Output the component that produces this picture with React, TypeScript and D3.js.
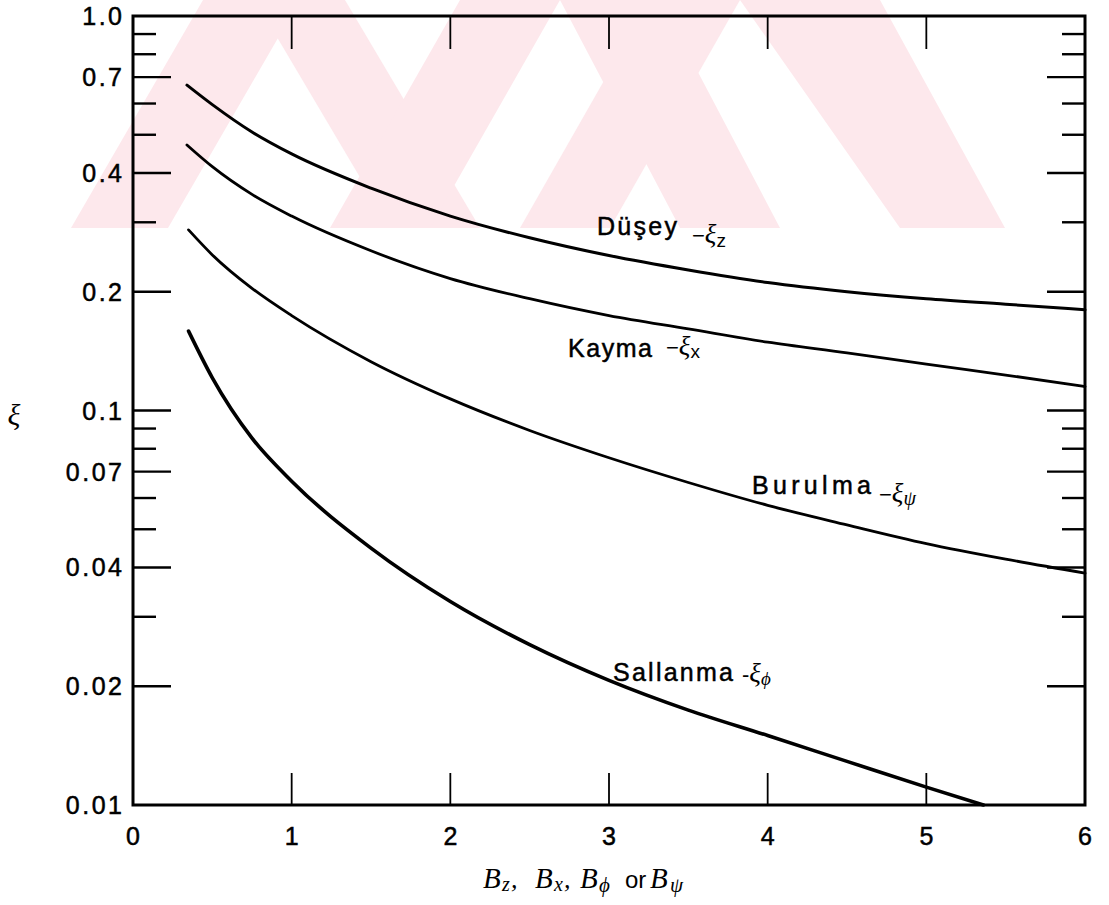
import React from "react";
import * as d3 from "d3";

// ---- data ----
const xTickValues = [0, 1, 2, 3, 4, 5, 6];
const innerXTicks = [1, 2, 3, 4, 5];
const yLabelValues = [1.0, 0.7, 0.4, 0.2, 0.1, 0.07, 0.04, 0.02, 0.01];
const yLabelText = ["1.0", "0.7", "0.4", "0.2", "0.1", "0.07", "0.04", "0.02", "0.01"];
const yMajorTicks = [0.7, 0.4, 0.2, 0.1, 0.07, 0.04, 0.02];
const yMinorTicks = [0.9, 0.8, 0.6, 0.5, 0.3, 0.09, 0.08, 0.06, 0.05, 0.03];

const duseyX = [0.34, 0.5, 0.75, 1, 1.5, 2, 2.5, 3, 3.5, 4, 4.5, 5, 5.5, 6];
const duseyY = [0.668, 0.596, 0.508, 0.447, 0.366, 0.311, 0.274, 0.247, 0.227, 0.211, 0.2, 0.192, 0.186, 0.18];

const kaymaX = [0.34, 0.5, 0.75, 1, 1.5, 2, 2.5, 3, 3.5, 4, 4.5, 5, 5.5, 6];
const kaymaY = [0.471, 0.415, 0.353, 0.311, 0.254, 0.216, 0.192, 0.174, 0.161, 0.149, 0.14, 0.131, 0.123, 0.115];

const burulmaX = [0.35, 0.5, 0.75, 1, 1.5, 2, 2.5, 3, 3.5, 4, 4.5, 5, 5.5, 6];
const burulmaY = [0.287, 0.248, 0.204, 0.174, 0.133, 0.107, 0.089, 0.0759, 0.0657, 0.0575, 0.0513, 0.046, 0.042, 0.0387];

const sallanmaX = [0.35, 0.5, 0.75, 1, 1.5, 2, 2.5, 3, 3.5, 4, 4.5, 5, 5.36];
const sallanmaY = [0.159, 0.121, 0.0851, 0.0662, 0.0448, 0.0328, 0.0255, 0.0207, 0.0174, 0.015, 0.0129, 0.0111, 0.01];

const W = 1109;
const H = 905;

export default function App() {
  const x = d3.scaleLinear().domain([0, 6]).range([133, 1085]);
  const y = d3.scaleLog().domain([0.01, 1]).range([805, 16]);
  const line = d3
    .line<[number, number]>()
    .x((d) => x(d[0]))
    .y((d) => y(d[1]))
    .curve(d3.curveMonotoneX);

  const zip = (xs: number[], ys: number[]) => xs.map((v, i) => [v, ys[i]] as [number, number]);
  const series = [
    { pts: zip(duseyX, duseyY), w: 3 },
    { pts: zip(kaymaX, kaymaY), w: 2.8 },
    { pts: zip(burulmaX, burulmaY), w: 2.8 },
    { pts: zip(sallanmaX, sallanmaY), w: 3.6 },
  ];

  const sans = "'Liberation Sans', Arial, sans-serif";
  const serif = "'Liberation Serif', 'DejaVu Serif', serif";
  const x0 = x(0), x1 = x(6), yTop = y(1), yBot = y(0.01);
  const pink = "#fde8ec";
  const bold = { stroke: "#000", strokeWidth: 0.5 };

  // watermark stripes (approximate), band y 0..228
  const stripes: [number, number][][] = [
    [[71, 228], [168, 228], [300, 0], [203, 0]],
    [[255, 0], [345, 0], [480, 228], [390, 228]],
    [[330, 228], [430, 228], [560, 0], [460, 0]],
    [[560, 0], [660, 0], [780, 228], [680, 228]],
    [[520, 228], [610, 228], [740, 0], [650, 0]],
    [[740, 0], [880, 0], [1005, 228], [900, 228]],
  ];

  return (
    <svg width={W} height={H} style={{ display: "block", position: "absolute", left: 0, top: 0 }}>
      <rect x={0} y={0} width={W} height={H} fill="#ffffff" />
      <defs>
        <clipPath id="band">
          <rect x={0} y={0} width={W} height={228} />
        </clipPath>
      </defs>
      <g clipPath="url(#band)">
        {stripes.map((p, i) => (
          <polygon key={i} points={p.map((q) => q.join(",")).join(" ")} fill={pink} />
        ))}
      </g>

      {/* frame */}
      <rect x={x0} y={yTop} width={x1 - x0} height={yBot - yTop} fill="none" stroke="#000" strokeWidth={3} />

      {/* top and bottom ticks */}
      {innerXTicks.map((t) => (
        <g key={"xt" + t}>
          <line x1={x(t)} x2={x(t)} y1={yTop} y2={yTop + 33} stroke="#000" strokeWidth={1.8} />
          <line x1={x(t)} x2={x(t)} y1={yBot} y2={yBot - 32} stroke="#000" strokeWidth={1.8} />
        </g>
      ))}

      {/* y ticks left & right */}
      {yMajorTicks.map((t) => (
        <g key={"ym" + t}>
          <line x1={x0} x2={x0 + 38} y1={y(t)} y2={y(t)} stroke="#000" strokeWidth={2.4} />
          <line x1={x1} x2={x1 - 38} y1={y(t)} y2={y(t)} stroke="#000" strokeWidth={2.4} />
        </g>
      ))}
      {yMinorTicks.map((t) => (
        <g key={"yn" + t}>
          <line x1={x0} x2={x0 + 23} y1={y(t)} y2={y(t)} stroke="#000" strokeWidth={2.4} />
          <line x1={x1} x2={x1 - 23} y1={y(t)} y2={y(t)} stroke="#000" strokeWidth={2.4} />
        </g>
      ))}

      {/* y labels */}
      {yLabelValues.map((t, i) => (
        <text
          key={"yl" + t}
          x={124.5}
          y={y(t) + 9}
          textAnchor="end"
          fontFamily={sans}
          fontSize={25}
          letterSpacing={2.5}
          fill="#000"
          {...bold}
        >
          {yLabelText[i]}
        </text>
      ))}

      {/* x labels */}
      {xTickValues.map((t) => (
        <text key={"xl" + t} x={x(t)} y={845} textAnchor="middle" fontFamily={sans} fontSize={25} fill="#000" {...bold}>
          {String(t)}
        </text>
      ))}

      {/* axis titles */}
      <text x={14} y={425} textAnchor="middle" fontFamily={serif} fontStyle="italic" fontSize={30} fill="#000">
        ξ
      </text>
      <g fontFamily={serif} fontStyle="italic" fill="#000">
        <text x={483} y={888} fontSize={29}>B</text>
        <text x={502} y={891} fontSize={20}>z</text>
        <text x={511} y={888} fontSize={26}>,</text>
        <text x={535} y={888} fontSize={29}>B</text>
        <text x={554} y={891} fontSize={20}>x</text>
        <text x={564} y={888} fontSize={26}>,</text>
        <text x={580} y={888} fontSize={29}>B</text>
        <text x={599} y={892} fontSize={21}>ϕ</text>
        <text x={625} y={888} fontSize={24} fontStyle="normal" fontFamily={sans}>or</text>
        <text x={650} y={888} fontSize={29}>B</text>
        <text x={670} y={892} fontSize={21}>ψ</text>
      </g>

      {/* curves */}
      {series.map((s, i) => (
        <path key={"c" + i} d={line(s.pts) || ""} fill="none" stroke="#000" strokeWidth={s.w} strokeLinecap="round" />
      ))}

      {/* curve labels */}
      <text x={597} y={235} fontFamily={sans} fontSize={25} textLength={80} lengthAdjust="spacing" fill="#000" {...bold}>Düşey</text>
      <text x={692} y={243} fontFamily={sans} fontSize={22} fill="#000">
        <tspan>−</tspan>
        <tspan fontFamily={serif} fontStyle="italic" fontSize={27}>ξ</tspan>
        <tspan fontSize={19} dy={4}>z</tspan>
      </text>

      <text x={568} y={357} fontFamily={sans} fontSize={25} textLength={84} lengthAdjust="spacing" fill="#000" {...bold}>Kayma</text>
      <text x={666} y={355} fontFamily={sans} fontSize={22} fill="#000">
        <tspan>−</tspan>
        <tspan fontFamily={serif} fontStyle="italic" fontSize={27}>ξ</tspan>
        <tspan fontSize={19} dy={3}>x</tspan>
      </text>

      <text x={752} y={494} fontFamily={sans} fontSize={25} textLength={119} lengthAdjust="spacing" fill="#000" {...bold}>Burulma</text>
      <text x={879} y={502} fontFamily={sans} fontSize={22} fill="#000">
        <tspan>−</tspan>
        <tspan fontFamily={serif} fontStyle="italic" fontSize={27}>ξ</tspan>
        <tspan fontFamily={serif} fontStyle="italic" fontSize={20} dy={3}>ψ</tspan>
      </text>

      <text x={613} y={681} fontFamily={sans} fontSize={25} textLength={120} lengthAdjust="spacing" fill="#000" {...bold}>Sallanma</text>
      <text x={742} y={682} fontFamily={sans} fontSize={22} fill="#000">
        <tspan>-</tspan>
        <tspan fontFamily={serif} fontStyle="italic" fontSize={27}>ξ</tspan>
        <tspan fontFamily={serif} fontStyle="italic" fontSize={19} dy={3}>ϕ</tspan>
      </text>
    </svg>
  );
}
